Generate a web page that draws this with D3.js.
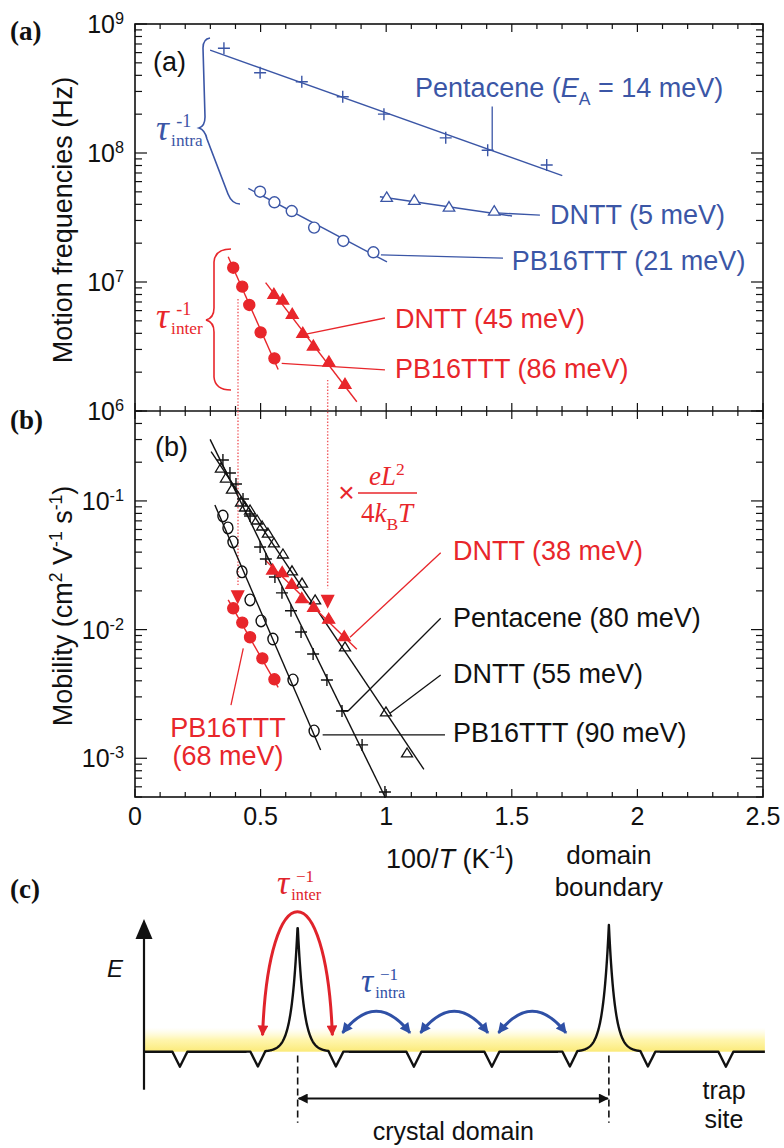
<!DOCTYPE html>
<html><head><meta charset="utf-8">
<script src="https://cdn.jsdelivr.net/npm/d3@7/dist/d3.min.js"></script>
<style>
html,body{margin:0;padding:0;background:#fff;}
svg{display:block;}
</style></head>
<body>
<svg id="fig" width="784" height="1148" xmlns="http://www.w3.org/2000/svg"></svg>
<script>
// ================= DATA =================
const xTickValues = [0, 0.5, 1, 1.5, 2, 2.5];
const xTickLabels = ["0", "0.5", "1", "1.5", "2", "2.5"];
const freqTickValues = [1e6, 1e7, 1e8, 1e9];
const freqTickExps = ["6", "7", "8", "9"];
const mobTickValues = [1e-3, 1e-2, 1e-1];
const mobTickExps = ["-3", "-2", "-1"];

// ---- panel (a): motion frequencies (Hz) vs 100/T ----
const aPentacene = [[0.354,6.48e8],[0.498,4.19e8],[0.664,3.57e8],[0.827,2.73e8],[0.991,2.0e8],[1.237,1.31e8],[1.404,1.05e8],[1.639,8.07e7]];
const aPentaceneFit = [[0.299,6.28e8],[1.701,6.67e7]];
const aDNTTintra = [[1.002,4.46e7],[1.112,4.23e7],[1.250,3.75e7],[1.430,3.49e7]];
const aDNTTintraFit = [[0.975,4.58e7],[1.501,3.25e7]];
const aPB16intra = [[0.498,5.01e7],[0.555,4.15e7],[0.624,3.55e7],[0.713,2.64e7],[0.829,2.08e7],[0.949,1.70e7]];
const aPB16intraFit = [[0.451,5.32e7],[1.003,1.43e7]];
const aPB16inter = [[0.391,1.29e7],[0.427,9.2e6],[0.455,6.64e6],[0.500,4.07e6],[0.555,2.56e6]];
const aPB16interFit = [[0.371,1.57e7],[0.570,2.10e6]];
const aDNTTinter = [[0.553,7.93e6],[0.588,7.16e6],[0.626,5.55e6],[0.668,3.95e6],[0.710,3.15e6],[0.772,2.37e6],[0.836,1.59e6]];
const aDNTTinterFit = [[0.520,9.89e6],[0.883,1.18e6]];

// ---- panel (b): mobility (cm2/Vs) vs 100/T ----
const bPentacene = [[0.350,0.208],[0.378,0.165],[0.402,0.1355],[0.430,0.1035],[0.458,0.0764],[0.498,0.0439],[0.521,0.0354],[0.557,0.0256],[0.585,0.0193],[0.621,0.0140],[0.661,0.00958],[0.709,0.00646],[0.764,0.00406],[0.824,0.00233],[0.904,0.00127],[0.995,0.000547]];
const bPentaceneFit = [[0.299,0.301],[0.995,5.02e-4]];
const bDNTT = [[0.342,0.177],[0.362,0.148],[0.386,0.1215],[0.422,0.0964],[0.438,0.0881],[0.458,0.0835],[0.486,0.0698],[0.506,0.0627],[0.529,0.0553],[0.553,0.0463],[0.589,0.0380],[0.625,0.0281],[0.665,0.0226],[0.717,0.0167],[0.836,0.00720],[0.999,0.00225],[1.083,0.00108]];
const bDNTTFit = [[0.303,0.2415],[1.150,8.20e-4]];
const bPB16 = [[0.350,0.0764],[0.370,0.0617],[0.390,0.0480],[0.426,0.0281],[0.458,0.0170],[0.502,0.01167],[0.549,0.00845],[0.629,0.00406],[0.713,0.00163]];
const bPB16Fit = [[0.318,0.0929],[0.739,1.159e-3]];
const bDNTTconv = [[0.548,0.0287],[0.586,0.0274],[0.624,0.0222],[0.664,0.0172],[0.711,0.0147],[0.771,0.0119],[0.833,0.0087]];
const bDNTTconvFit = [[0.518,0.0348],[0.883,7.03e-3]];
const bPB16conv = [[0.391,0.01465],[0.427,0.01133],[0.458,0.00872],[0.507,0.00598],[0.555,0.00411]];
const bPB16convFit = [[0.371,0.0170],[0.570,3.56e-3]];
const bConvMarks = [[0.409,0.0186],[0.767,0.0172]];
// dotted conversion drops: [100/T, frequency start, mobility end]
const convDrops = [[0.410,7.38e6,0.0222],[0.767,1.74e6,0.0210]];

// ---- leader lines (data coordinates) ----
const aPtrPentacene = [[1.422,2.29e8],[1.422,1.05e8]];
const aPtrDNTTintra = [[1.441,3.43e7],[1.612,3.30e7]];
const aPtrPB16intra = [[0.979,1.62e7],[1.465,1.53e7]];
const aPtrDNTTinter = [[0.681,3.94e6],[0.995,5.26e6]];
const aPtrPB16inter = [[0.584,2.34e6],[0.995,2.08e6]];
const bPtrDNTTconv = [[0.856,0.00871],[1.217,0.0396]];
const bPtrPB16conv = [[0.431,0.00716],[0.382,0.00259]];
const bPtrPentacene = [[0.820,0.00234],[0.849,0.00234],[1.217,0.01225]];
const bPtrDNTT = [[1.015,0.00224],[1.217,0.00444]];
const bPtrPB16 = [[0.747,0.00152],[1.234,0.00152]];

// ---- series labels ----
const aLabelNames = ["Pentacene", "DNTT (5 meV)", "PB16TTT (21 meV)", "DNTT (45 meV)", "PB16TTT (86 meV)"];
const aLabelPos = [[1.115,2.72e8],[1.652,2.82e7],[1.500,1.24e7],[1.035,4.40e6],[1.035,1.80e6]];
const bLabelNames = ["DNTT (38 meV)", "Pentacene (80 meV)", "DNTT (55 meV)", "PB16TTT (90 meV)"];
const bLabelPos = [[1.266,0.0348],[1.266,0.01047],[1.266,0.00385],[1.266,0.001337]];

// ---- panel (c) schematic ----
const cTraps = [0.46,1.46,2.46,3.46,4.46,5.46,6.46,7.46];
const cBoundaries = [1.97,5.96];
const cIntraHops = [[2.46,3.46],[3.46,4.46],[4.46,5.46]];
const cInterHop = [1.46,2.46];

// ================= DRAWING =================
const SANS = '"Liberation Sans", Arial, Helvetica, sans-serif';
const SERIF = '"Liberation Serif", "Times New Roman", Times, serif';
const BLUE = '#3b56a6', RED = '#e8262b', CBLUE = '#2f50a6', CRED = '#e0232b';

const svg = d3.select('#fig').attr('font-family', SANS);
const L = 135, R = 763, T = 24, M = 411, B = 797;
const x = d3.scaleLinear().domain([0, 2.5]).range([L, R]);
const ya = d3.scaleLog().domain([1e6, 1e9]).range([M, T]);
const yb = d3.scaleLog().domain([5e-4, 0.5]).range([B, M]);

function rich(g, px, py, parts, size, color, anchor, family) {
  const t = g.append('text').attr('x', px).attr('y', py).attr('font-size', size)
    .attr('fill', color).attr('text-anchor', anchor || 'start').attr('font-family', family || SANS);
  let off = 0;
  parts.forEach(p => {
    const arr = Array.isArray(p) ? p : [p];
    const str = arr[0], kind = arr[1] || 'n', st = arr[2] || '';
    const target = kind === 'sup' ? -0.36 * size : kind === 'sub' ? 0.28 * size : 0;
    const ts = t.append('tspan').attr('dy', target - off).text(str);
    if (kind !== 'n') ts.attr('font-size', size * 0.65);
    if (st.includes('i')) ts.attr('font-style', 'italic');
    off = target;
  });
  return t;
}
function drawLine(g, pts, ys, color, w, dash) {
  g.append('path').attr('d', d3.line().x(d => x(d[0])).y(d => ys(d[1]))(pts))
    .attr('fill', 'none').attr('stroke', color).attr('stroke-width', w || 1.4)
    .attr('stroke-dasharray', dash || null);
}
function plusM(g, pts, ys, color, s) {
  g.selectAll(null).data(pts).join('path')
    .attr('d', d => { const cx = x(d[0]), cy = ys(d[1]); return `M${cx - s},${cy}H${cx + s}M${cx},${cy - s}V${cy + s}`; })
    .attr('stroke', color).attr('stroke-width', 1.4).attr('fill', 'none');
}
function ellM(g, pts, ys, color, rx, ry, fill) {
  g.selectAll(null).data(pts).join('ellipse')
    .attr('cx', d => x(d[0])).attr('cy', d => ys(d[1])).attr('rx', rx).attr('ry', ry)
    .attr('fill', fill).attr('stroke', color).attr('stroke-width', 1.4);
}
function triM(g, pts, ys, color, w, h, fill, down) {
  const s = down ? -1 : 1;
  g.selectAll(null).data(pts).join('path')
    .attr('d', d => { const cx = x(d[0]), cy = ys(d[1]);
      return `M${cx},${cy - s * 2 * h / 3}L${cx + w / 2},${cy + s * h / 3}L${cx - w / 2},${cy + s * h / 3}Z`; })
    .attr('fill', fill).attr('stroke', color).attr('stroke-width', 1.3);
}

// ---- frame & ticks ----
const ax = svg.append('g').attr('stroke', '#111');
ax.append('rect').attr('x', L).attr('y', T).attr('width', R - L).attr('height', B - T)
  .attr('fill', 'none').attr('stroke-width', 1.6);
ax.append('line').attr('x1', L).attr('x2', R).attr('y1', M).attr('y2', M).attr('stroke-width', 1.6);

const xMinor = d3.range(0, 26).map(i => i / 10);
xMinor.forEach((v, i) => {
  const len = i % 5 === 0 ? 8 : 5, px = x(v);
  [[T, T + len], [M - len, M + len], [B - len, B]].forEach(([a, b]) =>
    ax.append('line').attr('x1', px).attr('x2', px).attr('y1', a).attr('y2', b).attr('stroke-width', 1.2));
});
function logTicks(lo, hi) {
  const out = [];
  for (let d = Math.floor(Math.log10(lo)); d <= Math.ceil(Math.log10(hi)); d++)
    for (let m = 1; m <= 9; m++) { const v = m * Math.pow(10, d); if (v >= lo * 0.999 && v <= hi * 1.001) out.push([v, m === 1]); }
  return out;
}
[[ya, logTicks(1e6, 1e9)], [yb, logTicks(5e-4, 0.5)]].forEach(([ys, ticks]) => {
  ticks.forEach(([v, major]) => {
    const len = major ? 12 : 7, py = ys(v);
    ax.append('line').attr('x1', L).attr('x2', L + len).attr('y1', py).attr('y2', py).attr('stroke-width', 1.2);
    ax.append('line').attr('x1', R - len).attr('x2', R).attr('y1', py).attr('y2', py).attr('stroke-width', 1.2);
  });
});

// tick labels
const tl = svg.append('g');
xTickValues.forEach((v, i) => tl.append('text').attr('x', x(v)).attr('y', 825).attr('text-anchor', 'middle')
  .attr('font-size', 25).attr('fill', '#111').text(xTickLabels[i]));
freqTickValues.forEach((v, i) => rich(tl, 124, ya(v) + 9, ['10', [freqTickExps[i], 'sup']], 25, '#111', 'end'));
mobTickValues.forEach((v, i) => rich(tl, 124, yb(v) + 9, ['10', [mobTickExps[i], 'sup']], 25, '#111', 'end'));

// axis titles
rich(svg.append('g').attr('transform', 'translate(72,220) rotate(-90)'), 0, 0, ['Motion frequencies (Hz)'], 27, '#111', 'middle');
rich(svg.append('g').attr('transform', 'translate(72,606) rotate(-90)'), 0, 0,
  ['Mobility (cm', ['2', 'sup'], ' V', ['-1', 'sup'], ' s', ['-1', 'sup'], ')'], 27, '#111', 'middle');
rich(svg, 450, 868, ['100/', ['T', 'n', 'i'], ' (K', ['-1', 'sup'], ')'], 27, '#111', 'middle');

// panel letters
[['(a)', 40], ['(b)', 429], ['(c)', 898]].forEach(([s, py]) =>
  svg.append('text').attr('x', 10).attr('y', py).attr('font-family', SERIF).attr('font-weight', 'bold')
    .attr('font-size', 27).attr('fill', '#111').text(s));
svg.append('text').attr('x', 153).attr('y', 71).attr('font-size', 27).attr('fill', '#111').text('(a)');
svg.append('text').attr('x', 155).attr('y', 456).attr('font-size', 27).attr('fill', '#111').text('(b)');

// ---- panel (a) series ----
const ga = svg.append('g');
drawLine(ga, aPentaceneFit, ya, BLUE);
drawLine(ga, aDNTTintraFit, ya, BLUE);
drawLine(ga, aPB16intraFit, ya, BLUE);
drawLine(ga, aPB16interFit, ya, RED);
drawLine(ga, aDNTTinterFit, ya, RED);
[aPtrPentacene, aPtrDNTTintra, aPtrPB16intra].forEach(p => drawLine(ga, p, ya, BLUE, 1.3));
[aPtrDNTTinter, aPtrPB16inter].forEach(p => drawLine(ga, p, ya, RED, 1.3));
plusM(ga, aPentacene, ya, BLUE, 6);
triM(ga, aDNTTintra, ya, BLUE, 11.5, 9.5, '#fff');
ellM(ga, aPB16intra, ya, BLUE, 5.5, 5.5, '#fff');
ellM(ga, aPB16inter, ya, RED, 5.5, 5.5, RED);
triM(ga, aDNTTinter, ya, RED, 12, 10, RED);

// labels (a)
rich(ga, x(aLabelPos[0][0]), ya(aLabelPos[0][1]), [aLabelNames[0] + ' (', ['E', 'n', 'i'], ['A', 'sub'], ' = 14 meV)'], 27, BLUE);
[1, 2].forEach(i => rich(ga, x(aLabelPos[i][0]), ya(aLabelPos[i][1]), [aLabelNames[i]], 27, BLUE));
[3, 4].forEach(i => rich(ga, x(aLabelPos[i][0]), ya(aLabelPos[i][1]), [aLabelNames[i]], 27, RED));

// braces + tau labels
ga.append('path').attr('d', 'M210,38 Q203,39 203,48 L205,117 Q205,126 199,128 Q205,130 207,139 L228,194 Q232,204 240,204')
  .attr('fill', 'none').attr('stroke', BLUE).attr('stroke-width', 1.6);
ga.append('path').attr('d', 'M231,249 Q215,249 214,262 L214,308 Q214,318 206,320 Q214,322 214,332 L214,377 Q215,390 231,390')
  .attr('fill', 'none').attr('stroke', RED).attr('stroke-width', 1.6);
function tau(g, px, py, sup, sub, color, size) {
  g.append('text').attr('x', px).attr('y', py).attr('font-family', SERIF).attr('font-style', 'italic')
    .attr('font-size', size).attr('fill', color).text('τ');
  g.append('text').attr('x', px + size * 0.56).attr('y', py - size * 0.36).attr('font-family', SERIF)
    .attr('font-size', size * 0.5).attr('fill', color).text(sup);
  g.append('text').attr('x', px + size * 0.42).attr('y', py + size * 0.17).attr('font-family', SERIF)
    .attr('font-size', size * 0.48).attr('fill', color).text(sub);
}
tau(ga, 156, 140, '-1', 'intra', BLUE, 36);
tau(ga, 156, 328, '-1', 'inter', RED, 36);

// dotted conversion lines
convDrops.forEach(d => {
  ga.append('line').attr('x1', x(d[0])).attr('x2', x(d[0])).attr('y1', ya(d[1])).attr('y2', yb(d[2]))
    .attr('stroke', '#f05a5f').attr('stroke-width', 1.4).attr('stroke-dasharray', '1.4,1.8');
});

// ---- panel (b) series ----
const gb = svg.append('g');
drawLine(gb, bPentaceneFit, yb, '#111');
drawLine(gb, bDNTTFit, yb, '#111');
drawLine(gb, bPB16Fit, yb, '#111');
drawLine(gb, bDNTTconvFit, yb, RED);
drawLine(gb, bPB16convFit, yb, RED);
[bPtrPentacene, bPtrDNTT, bPtrPB16].forEach(p => drawLine(gb, p, yb, '#111', 1.3));
[bPtrDNTTconv, bPtrPB16conv].forEach(p => drawLine(gb, p, yb, RED, 1.3));
plusM(gb, bPentacene, yb, '#111', 6);
triM(gb, bDNTT, yb, '#111', 11, 9, 'none');
ellM(gb, bPB16, yb, '#111', 5, 5.8, 'none');
triM(gb, bDNTTconv, yb, RED, 12, 10, RED);
ellM(gb, bPB16conv, yb, RED, 5.5, 5.5, RED);
triM(gb, bConvMarks, yb, RED, 12, 12, RED, true);

rich(gb, x(bLabelPos[0][0]), yb(bLabelPos[0][1]), [bLabelNames[0]], 27, RED);
[1, 2, 3].forEach(i => rich(gb, x(bLabelPos[i][0]), yb(bLabelPos[i][1]), [bLabelNames[i]], 27, '#111'));
rich(gb, x(0.370), yb(0.00146), ['PB16TTT'], 27, RED, 'middle');
rich(gb, x(0.370), yb(0.000887), ['(68 meV)'], 27, RED, 'middle');

// conversion factor
gb.append('text').attr('x', 346.5).attr('y', 502).attr('text-anchor', 'middle').attr('font-size', 28).attr('fill', RED).text('×');
rich(gb, 387, 485, [['eL', 'n', 'i'], ['2', 'sup']], 27, RED, 'middle', SERIF);
gb.append('line').attr('x1', 358).attr('x2', 417).attr('y1', 493).attr('y2', 493).attr('stroke', RED).attr('stroke-width', 1.5);
rich(gb, 387, 522, ['4', ['k', 'n', 'i'], ['B', 'sub'], ['T', 'n', 'i']], 27, RED, 'middle', SERIF);

// ================= PANEL (c) =================
const gc = svg.append('g');
const cX = d3.scaleLinear().domain([0, 8]).range([144, 768]);
const cY = d3.scaleLinear().domain([0, 1]).range([1051.7, 925]);
const defs = svg.append('defs');
const grad = defs.append('linearGradient').attr('id', 'yband').attr('x1', 0).attr('x2', 0).attr('y1', 0).attr('y2', 1);
grad.append('stop').attr('offset', '0%').attr('stop-color', '#fff9c8').attr('stop-opacity', 0);
grad.append('stop').attr('offset', '50%').attr('stop-color', '#fff4a0').attr('stop-opacity', 0.85);
grad.append('stop').attr('offset', '100%').attr('stop-color', '#fbea78').attr('stop-opacity', 1);
function mk(id, color, w, h) {
  defs.append('marker').attr('id', id).attr('viewBox', '0 0 10 10').attr('refX', 9).attr('refY', 5)
    .attr('markerWidth', w).attr('markerHeight', h).attr('orient', 'auto-start-reverse')
    .append('path').attr('d', 'M0,0L10,5L0,10z').attr('fill', color);
}
mk('ahR', CRED, 4.6, 3.6); mk('ahB', CBLUE, 4.4, 3.6); mk('ahK', '#111', 6, 5);

gc.append('rect').attr('x', cX(0)).attr('y', cY(0.19)).attr('width', cX(7.96) - cX(0)).attr('height', cY(0) - cY(0.19))
  .attr('fill', 'url(#yband)');

const prof = d3.range(0, 7.96 + 1e-9, 0.004).map(u => {
  let e = 0;
  cBoundaries.forEach(b => { e += Math.exp(-Math.abs(u - b) * 78 / 6); });
  cTraps.forEach(t => { const d = Math.abs(u - t) * 78; if (d < 7.5) e -= 0.118 * (1 - d / 7.5); });
  return [u, e];
});
gc.append('path').attr('d', d3.line().x(d => cX(d[0])).y(d => cY(d[1]))(prof))
  .attr('fill', 'none').attr('stroke', '#111').attr('stroke-width', 2.4).attr('stroke-linejoin', 'round');

// energy axis
gc.append('line').attr('x1', cX(0)).attr('x2', cX(0)).attr('y1', cY(-0.3)).attr('y2', cY(0.92)).attr('stroke', '#111').attr('stroke-width', 2.2);
gc.append('path').attr('d', `M${cX(0)},${cY(1.047)}L${cX(0) + 8.5},${cY(0.89)}L${cX(0) - 8.5},${cY(0.89)}Z`).attr('fill', '#111');
gc.append('text').attr('x', 107).attr('y', 977).attr('font-size', 24).attr('font-style', 'italic').attr('fill', '#111').text('E');

// boundaries dashed + domain arrow
cBoundaries.forEach(b => gc.append('line').attr('x1', cX(b)).attr('x2', cX(b)).attr('y1', cY(-0.03)).attr('y2', cY(-0.56))
  .attr('stroke', '#111').attr('stroke-width', 1.6).attr('stroke-dasharray', '7,4'));
gc.append('line').attr('x1', cX(cBoundaries[0]) + 1).attr('x2', cX(cBoundaries[1]) - 1).attr('y1', 1098.5).attr('y2', 1098.5)
  .attr('stroke', '#111').attr('stroke-width', 2).attr('marker-start', 'url(#ahK)').attr('marker-end', 'url(#ahK)');

// inter-domain hop (red)
{
  const x0 = cX(cInterHop[0] + 0.06), x1 = cX(cInterHop[1] - 0.045);
  const y0 = cY(0.13), yc = cY(1.43);
  gc.append('path').attr('d', `M${x0},${y0} C${x0 + 6},${yc} ${x1 - 6},${yc} ${x1},${y0}`)
    .attr('fill', 'none').attr('stroke', CRED).attr('stroke-width', 3)
    .attr('marker-start', 'url(#ahR)').attr('marker-end', 'url(#ahR)');
}
// intra-domain hops (blue)
cIntraHops.forEach(([a, b]) => {
  const x0 = cX(a + 0.085), x1 = cX(b - 0.05), y0 = cY(0.148), yc = cY(0.49);
  gc.append('path').attr('d', `M${x0},${y0} Q${(x0 + x1) / 2},${yc} ${x1},${y0}`)
    .attr('fill', 'none').attr('stroke', CBLUE).attr('stroke-width', 3)
    .attr('marker-start', 'url(#ahB)').attr('marker-end', 'url(#ahB)');
});

tau(gc, 277, 894, '−1', 'inter', CRED, 34);
tau(gc, 361, 992, '−1', 'intra', CBLUE, 34);
gc.append('text').attr('x', cX(cBoundaries[1])).attr('y', 864).attr('text-anchor', 'middle').attr('font-size', 26).attr('fill', '#111').text('domain');
gc.append('text').attr('x', cX(cBoundaries[1])).attr('y', 896).attr('text-anchor', 'middle').attr('font-size', 26).attr('fill', '#111').text('boundary');
gc.append('text').attr('x', (cX(cBoundaries[0]) + cX(cBoundaries[1])) / 2).attr('y', 1140).attr('text-anchor', 'middle').attr('font-size', 25).attr('fill', '#111').text('crystal domain');
gc.append('text').attr('x', 724).attr('y', 1099).attr('text-anchor', 'middle').attr('font-size', 25).attr('fill', '#111').text('trap');
gc.append('text').attr('x', 724).attr('y', 1128).attr('text-anchor', 'middle').attr('font-size', 25).attr('fill', '#111').text('site');
</script>
</body></html>
